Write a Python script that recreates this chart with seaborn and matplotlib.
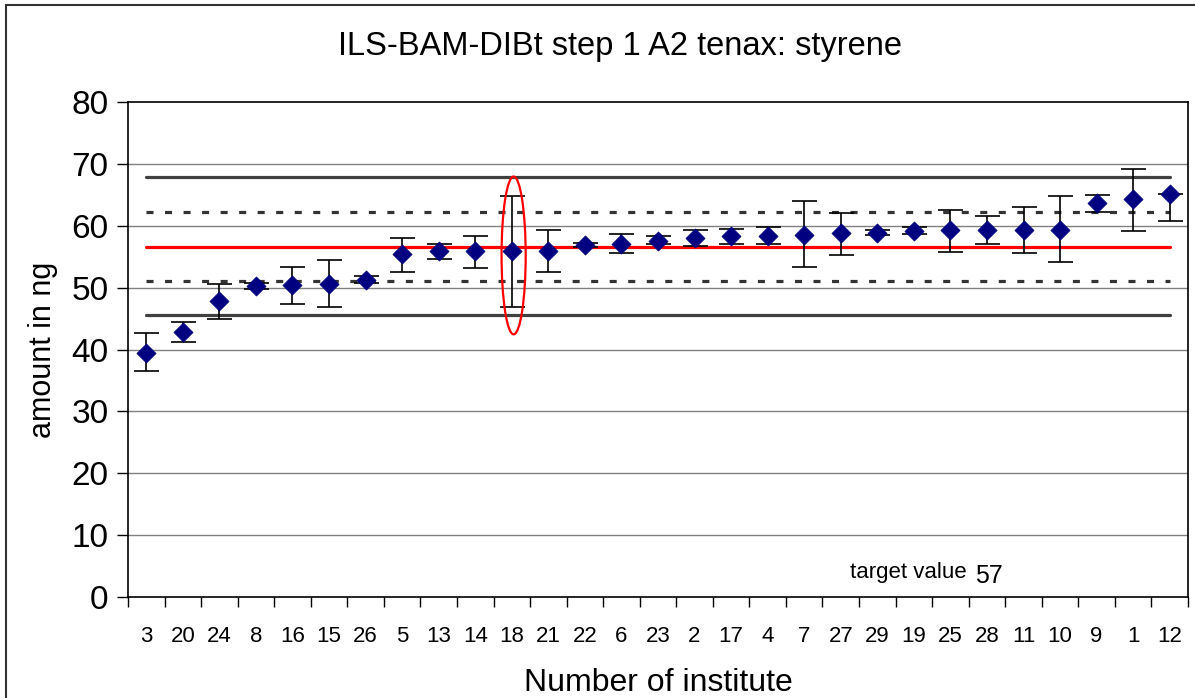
import numpy as np
import pandas as pd
import matplotlib
matplotlib.use("Agg")
import matplotlib.pyplot as plt
import seaborn as sns
from matplotlib.patches import Ellipse, Rectangle

# institutes, sorted by mean value
institutes = ["3", "20", "24", "8", "16", "15", "26", "5", "13", "14", "18", "21", "22", "6", "23",
              "2", "17", "4", "7", "27", "29", "19", "25", "28", "11", "10", "9", "1", "12"]
amount = [39.5, 42.9, 47.8, 50.2, 50.4, 50.6, 51.3, 55.4, 55.9, 55.9, 55.9, 55.9, 56.9, 57.1, 57.6,
          58.1, 58.3, 58.3, 58.5, 58.8, 58.9, 59.2, 59.3, 59.3, 59.3, 59.3, 63.6, 64.3, 65.2]
err_low = [36.5, 41.2, 45.0, 49.7, 47.4, 46.9, 50.8, 52.6, 54.6, 53.1, 46.9, 52.6, 56.6, 55.6, 57.0,
           56.8, 57.0, 57.0, 53.4, 55.3, 58.5, 58.6, 55.8, 57.0, 55.6, 54.1, 62.3, 59.1, 60.8]
err_high = [42.7, 44.4, 50.6, 50.7, 53.3, 54.4, 51.8, 58.0, 57.1, 58.3, 64.8, 59.3, 57.2, 58.6, 58.3,
            59.3, 59.5, 59.8, 64.0, 62.1, 59.3, 59.8, 62.5, 61.6, 63.0, 64.8, 65.0, 69.2, 65.2]

target = 56.6
inner_limits = [51.05, 62.15]
outer_limits = [45.6, 67.8]

df = pd.DataFrame({"institute": institutes, "amount": amount})

sns.set_style("white")
plt.rcParams["font.family"] = ["Liberation Sans", "DejaVu Sans"]
plt.rcParams["text.color"] = "black"
plt.rcParams["axes.labelcolor"] = "black"
plt.rcParams["xtick.color"] = "black"
plt.rcParams["ytick.color"] = "black"

fig = plt.figure(figsize=(11.95, 6.98), dpi=100)
ax = fig.add_axes([128 / 1195, 1 - 597 / 698, 1060 / 1195, 495 / 698])

n = len(institutes)
pos = np.arange(n)

# gridlines
for v in range(10, 80, 10):
    ax.axhline(v, color="#808080", lw=1, zorder=0)

# limit lines
for v in outer_limits:
    ax.plot([0, n - 1], [v, v], color="#404040", lw=2.3, zorder=1)
for v in inner_limits:
    ax.plot([0, n - 1], [v, v], color="#333333", lw=2.3, dashes=(2.2, 3.6), zorder=1)
ax.plot([0, n - 1], [target, target], color="red", lw=2.3, zorder=1)

yerr = [np.array(amount) - np.array(err_low), np.array(err_high) - np.array(amount)]
ax.errorbar(pos, amount, yerr=yerr, fmt="none", ecolor="black", elinewidth=1.2,
            capsize=9, capthick=1.2, zorder=2)

sns.scatterplot(data=df, x="institute", y="amount", marker="D", s=95, color="#000080",
                edgecolor="#000080", linewidth=0.5, zorder=3, ax=ax)

# outlier highlight around institute 18
ax.add_patch(Ellipse((10.05, 55.2), 0.66, 25.5, fill=False, edgecolor="red", lw=1.6, zorder=4))

ax.set_xlim(-0.5, n - 0.5)
ax.set_ylim(0, 80)
ax.set_yticks(range(0, 81, 10))
ax.set_xticks(pos)
ax.set_xticklabels(institutes)
ax.set_xticks(np.arange(-0.5, n, 1), minor=True)
ax.tick_params(axis="x", which="major", length=0, labelsize=16, pad=21)
ax.tick_params(axis="x", which="minor", length=7, width=1, color="black", direction="out", bottom=True)
ax.tick_params(axis="y", length=8, width=1, color="black", direction="out", left=True, labelsize=24, pad=6)

for s in ax.spines.values():
    s.set_color("black")
    s.set_linewidth(1.2)

ax.set_xlabel("Number of institute", fontsize=23, labelpad=15)
ax.set_ylabel("amount in ng", fontsize=22, labelpad=10)

fig.text(620 / 1195, 1 - 47 / 698, "ILS-BAM-DIBt step 1 A2 tenax: styrene",
         ha="center", va="center", fontsize=23.5)
ax.text(0.7915, 0.038, "target value", transform=ax.transAxes, ha="right", va="baseline", fontsize=16)
ax.text(0.799, 0.028, "57", transform=ax.transAxes, ha="left", va="baseline", fontsize=18)

# outer chart frame
fig.patches.append(Rectangle((6 / 1195, -0.1), 1.2, 0.1 + 1 - 5 / 698, transform=fig.transFigure,
                             fill=False, edgecolor="#333333", lw=1.5))

fig.savefig("out.png", dpi=100)
